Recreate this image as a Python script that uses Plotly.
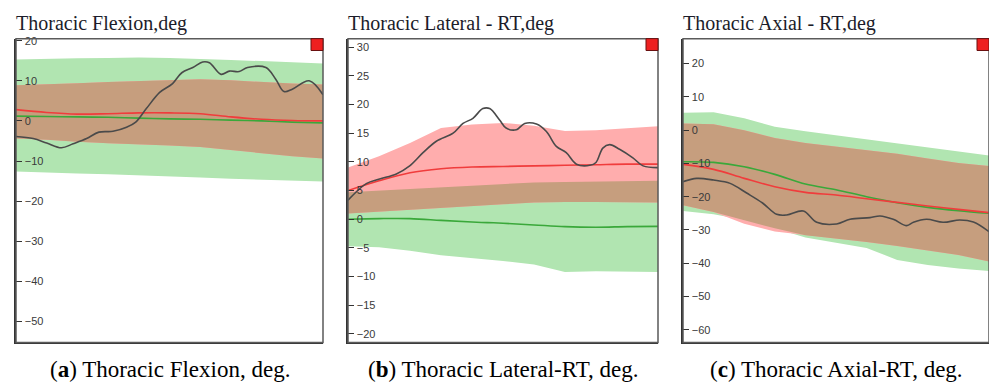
import numpy as np
import plotly.graph_objects as go

# ---------------- data ----------------
pct = [0, 10, 20, 30, 40, 50, 60, 70, 80, 90, 100]

# Panel a: Thoracic Flexion
a_green_upper = [15.3, 15.5, 15.6, 15.7, 15.8, 15.7, 15.5, 15.2, 14.9, 14.6, 14.3]
a_green_lower = [-12.6, -12.8, -13.1, -13.3, -13.6, -13.8, -14.1, -14.4, -14.7, -14.9, -15.1]
a_red_upper = [8.9, 9.1, 9.4, 9.7, 9.9, 10.2, 10.4, 10.1, 9.7, 9.3, 9.1]
a_red_lower = [-4.4, -4.7, -5.2, -5.6, -5.9, -6.1, -6.5, -7.2, -8.0, -8.8, -9.4]
a_red_mean = [2.8, 2.1, 1.7, 1.8, 2.0, 2.0, 1.8, 1.0, 0.4, 0.1, 0.0]
a_green_mean = [1.2, 1.1, 1.0, 0.9, 0.7, 0.5, 0.4, 0.2, 0.0, -0.3, -0.5]
a_subj_x = [0, 5.6, 10, 14.8, 18.6, 23, 27, 31.6, 36, 39, 42.4, 46.8, 51, 54, 57.6, 60.8,
            63, 66.8, 69.5, 72.7, 75.4, 81.4, 84.6, 87.3, 90, 95.5, 100]
a_subj_y = [-3.9, -4.4, -5.5, -6.7, -5.7, -4.4, -2.8, -2.6, -1.6, -0.3, 3.0, 7.1, 9.3, 12.0,
            13.3, 14.7, 14.5, 11.6, 12.4, 12.3, 13.3, 13.3, 10.4, 7.3, 7.9, 10.0, 6.5]

# Panel b: Thoracic Lateral - RT
b_green_upper = [4.7, 5.0, 5.3, 5.6, 5.9, 6.1, 6.4, 6.5, 6.6, 6.6, 6.7]
b_green_lower = [-4.7, -4.9, -5.5, -6.3, -6.8, -7.3, -7.9, -9.2, -9.1, -9.1, -9.2]
b_red_upper = [9.0, 11.0, 13.3, 15.9, 16.5, 16.8, 16.3, 15.4, 15.5, 15.9, 16.2]
b_red_lower = [1.0, 1.3, 1.7, 2.0, 2.3, 2.6, 2.9, 3.0, 3.0, 3.0, 2.9]
b_red_mean = [5.0, 6.7, 8.1, 8.8, 9.1, 9.2, 9.3, 9.4, 9.5, 9.6, 9.6]
b_green_mean = [0.0, 0.1, 0.1, -0.2, -0.5, -0.7, -1.0, -1.3, -1.4, -1.3, -1.25]
b_subj_x = [0, 5.9, 10.2, 15.6, 19.9, 24.2, 28.5, 33.9, 37.1, 40.3, 43.5, 45.7, 48.9, 51,
            54.3, 57, 60.8, 64, 67.2, 70.4, 73.7, 78, 80, 82.2, 84.4, 87.6, 91.9, 95.2, 100]
b_subj_y = [3.3, 6.2, 7.0, 7.9, 9.3, 11.6, 13.6, 15.0, 16.7, 17.6, 19.3, 19.3, 17.3, 15.9,
            15.6, 16.7, 16.6, 15.3, 12.7, 11.6, 9.6, 9.4, 9.9, 12.4, 13.0, 12.2, 10.7, 9.3, 9.0]

# Panel c: Thoracic Axial - RT
c_green_upper = [5.2, 5.4, 3.6, 1.0, -0.3, -1.5, -2.8, -3.9, -5.2, -6.5, -7.6]
c_green_lower = [-24.3, -25.3, -27.0, -29.5, -32.3, -33.9, -35.4, -39.0, -40.5, -41.6, -42.3]
c_red_upper = [2.0, 1.8, 0.0, -2.4, -3.9, -4.9, -5.9, -7.1, -8.5, -9.9, -10.8]
c_red_lower = [-22.6, -24.6, -28.1, -30.5, -31.6, -32.5, -33.6, -34.8, -36.1, -37.5, -39.5]
c_red_mean = [-10.3, -11.8, -14.5, -17.0, -18.7, -19.5, -20.6, -21.7, -22.8, -23.8, -24.8]
c_green_mean = [-9.5, -9.7, -11.0, -13.3, -16.2, -17.9, -20.0, -21.8, -23.2, -24.2, -25.0]
c_subj_x = [0, 4.5, 10, 15.4, 20.8, 26, 30.6, 33.9, 39.3, 43.7, 50.2, 54.6, 61.1, 64.4,
            68.7, 73.1, 75.3, 79.6, 85, 90.5, 94.9, 100]
c_subj_y = [-15.5, -14.5, -15.0, -16.0, -18.9, -21.9, -25.3, -25.5, -24.3, -27.7, -28.2,
            -26.8, -26.3, -25.8, -26.8, -28.7, -27.7, -26.8, -27.7, -27.0, -27.6, -30.5]

titles = ["Thoracic Flexion,deg", "Thoracic Lateral - RT,deg", "Thoracic Axial - RT,deg"]
captions = ["(<b>a</b>) Thoracic Flexion, deg.", "(<b>b</b>) Thoracic Lateral-RT, deg.",
            "(<b>c</b>) Thoracic Axial-RT, deg."]
y_ranges = [[-55.2, 20.5], [-21.5, 31.5], [-63.8, 27.5]]
y_ticks = [list(range(-50, 21, 10)), list(range(-20, 31, 5)), list(range(-60, 21, 10))]

# ---------------- style ----------------
W, H = 989, 383
GREEN_BAND = "#b1e5b1"
RED_BAND = "#ffadad"
OVERLAP = "#c69e7e"
GREEN_LINE = "#3aa83a"
RED_LINE = "#f03c3c"
SUBJ_LINE = "#4a4a4a"
SERIF = "Liberation Serif, Times New Roman, serif"

x_px = [(16, 323), (348, 658), (683, 989)]
y_top_px, y_bot_px = 35, 342

panels = [
    (a_green_upper, a_green_lower, a_red_upper, a_red_lower, a_red_mean, a_green_mean, a_subj_x, a_subj_y),
    (b_green_upper, b_green_lower, b_red_upper, b_red_lower, b_red_mean, b_green_mean, b_subj_x, b_subj_y),
    (c_green_upper, c_green_lower, c_red_upper, c_red_lower, c_red_mean, c_green_mean, c_subj_x, c_subj_y),
]

fig = go.Figure()


def band(x, up, lo, color, xa, ya):
    return go.Scatter(x=list(x) + list(x)[::-1], y=list(up) + list(lo)[::-1],
                      fill="toself", fillcolor=color, line=dict(width=0),
                      mode="lines", hoverinfo="skip", showlegend=False,
                      xaxis=xa, yaxis=ya)


for i, (gu, gl, ru, rl, rm, gm, sx, sy) in enumerate(panels):
    n = "" if i == 0 else str(i + 1)
    xa, ya = "x" + n, "y" + n
    ou = np.minimum(gu, ru)
    ol = np.minimum(np.maximum(gl, rl), ou)
    fig.add_trace(band(pct, gu, gl, GREEN_BAND, xa, ya))
    fig.add_trace(band(pct, ru, rl, RED_BAND, xa, ya))
    fig.add_trace(band(pct, ou, ol, OVERLAP, xa, ya))
    fig.add_trace(go.Scatter(x=pct, y=gm, mode="lines", line=dict(color=GREEN_LINE, width=1.6, shape="spline"),
                             showlegend=False, xaxis=xa, yaxis=ya))
    fig.add_trace(go.Scatter(x=pct, y=rm, mode="lines", line=dict(color=RED_LINE, width=1.6, shape="spline"),
                             showlegend=False, xaxis=xa, yaxis=ya))
    fig.add_trace(go.Scatter(x=sx, y=sy, mode="lines", line=dict(color=SUBJ_LINE, width=1.6, shape="spline"),
                             showlegend=False, xaxis=xa, yaxis=ya))

    x0, x1 = x_px[i]
    dom_x = [x0 / W, x1 / W]
    dom_y = [(H - y_bot_px) / H, (H - y_top_px) / H]
    fig.layout["xaxis" + n] = dict(domain=dom_x, range=[0, 100], anchor=ya, showgrid=False,
                                   zeroline=False, showticklabels=False, ticks="",
                                   showline=True, linecolor="#333", linewidth=2)
    fig.layout["yaxis" + n] = dict(domain=dom_y, range=y_ranges[i], anchor=xa, showgrid=False,
                                   zeroline=False, tickvals=y_ticks[i], ticks="inside",
                                   ticklen=6, tickcolor="#333", tickwidth=1,
                                   ticklabelposition="inside", ticklabeloverflow="allow",
                                   ticklabelstandoff=2,
                                   tickfont=dict(family="Arial, Liberation Sans", size=11, color="#3a3a3a"),
                                   showline=True, linecolor="#333", linewidth=2)
    # box border
    fig.add_shape(type="rect", xref=xa + " domain", yref=ya + " domain", x0=0, x1=1, y0=0, y1=1,
                  line=dict(color="#5a5a5a", width=1.5), layer="above")
    # red close box
    pw = x1 - x0
    ph = y_bot_px - y_top_px
    fig.add_shape(type="rect", xref=xa + " domain", yref=ya + " domain",
                  x0=1 - 12 / pw, x1=1, y0=1 - 12 / ph, y1=1,
                  fillcolor="#ee2020", line=dict(color="#6a1010", width=1), layer="above")
    # title
    fig.add_annotation(text=titles[i], xref=xa + " domain", yref=ya + " domain", x=0, y=1,
                       xanchor="left", yanchor="bottom", showarrow=False, yshift=2, xshift=-2,
                       font=dict(family=SERIF, size=20, color="#1c1c2a"))
    # caption
    fig.add_annotation(text=captions[i], xref="paper", yref="paper",
                       x=(x0 + x1) / 2 / W, y=(H - 369) / H, xanchor="center", yanchor="middle",
                       showarrow=False,
                       font=dict(family=SERIF, size=23, color="#000"))

fig.update_layout(width=W, height=H, margin=dict(l=0, r=0, t=0, b=0),
                  plot_bgcolor="white", paper_bgcolor="white", showlegend=False)

fig.write_html("out.html")
